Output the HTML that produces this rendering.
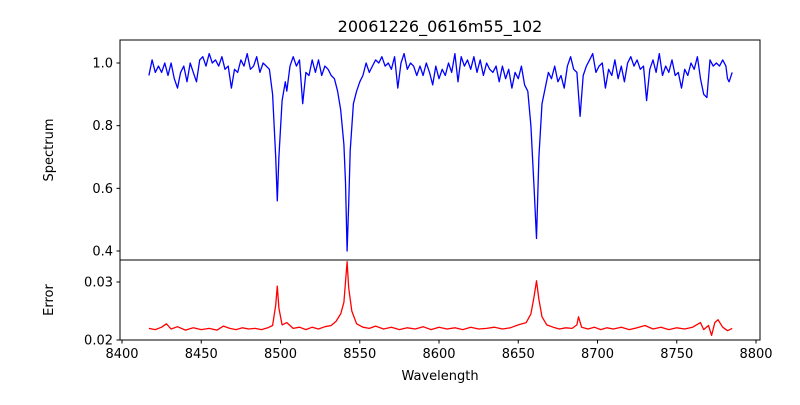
<!DOCTYPE html>
<html><head><meta charset="utf-8"><style>
body{margin:0;background:#fff;font-family:"Liberation Sans","DejaVu Sans",sans-serif}
</style></head><body>
<svg id="chart" width="800" height="400" xmlns="http://www.w3.org/2000/svg" font-family="DejaVu Sans, Liberation Sans, sans-serif">
<rect width="800" height="400" fill="#fff"/>
<text x="440" y="32" text-anchor="middle" font-size="16">20061226_0616m55_102</text>
<text transform="translate(53,150) rotate(-90)" text-anchor="middle" font-size="13">Spectrum</text>
<text transform="translate(53,300) rotate(-90)" text-anchor="middle" font-size="13">Error</text>
<text x="440" y="380" text-anchor="middle" font-size="13">Wavelength</text>
<g id="g"></g>
</svg>
<script>
const wl=[8417,8419,8421,8423,8425,8427,8429,8431,8433,8435,8437,8439,8441,8443,8445,8447,8449,8451,8453,8455,8457,8459,8461,8463,8465,8467,8469,8471,8473,8475,8477,8479,8481,8483,8485,8487,8489,8491,8493,8495,8497,8498,8499,8501,8503,8504,8506,8508,8510,8512,8514,8516,8518,8520,8522,8524,8526,8528,8530,8532,8534,8536,8538,8540,8541,8542,8543,8544,8546,8548,8550,8552,8554,8556,8558,8560,8562,8564,8566,8568,8570,8572,8574,8576,8578,8580,8582,8584,8586,8588,8590,8592,8594,8596,8598,8600,8602,8604,8606,8608,8610,8612,8614,8616,8618,8620,8622,8624,8626,8628,8630,8632,8634,8636,8638,8640,8642,8644,8646,8648,8650,8652,8654,8656,8658,8660,8661.5,8663,8665,8667,8669,8671,8673,8675,8677,8679,8681,8683,8685,8687,8689,8691,8693,8695,8697,8699,8701,8703,8705,8707,8709,8711,8713,8715,8717,8719,8721,8723,8725,8727,8729,8731,8733,8735,8737,8739,8741,8743,8745,8747,8749,8751,8753,8755,8757,8759,8761,8763,8765,8767,8769,8771,8773,8775,8777,8779,8781,8782,8783,8785];
const flux=[.96,1.01,.97,.99,.97,1.0,.96,1.0,.95,.92,.97,.99,.94,1.0,.97,.94,1.01,1.02,.99,1.03,1.0,1.01,.99,1.02,.98,.99,.92,.98,.97,1.01,.99,1.03,.98,.99,1.02,.97,1.0,.99,.98,.90,.70,.56,.70,.88,.94,.91,.99,1.02,.99,1.01,.87,.97,.96,1.01,.97,1.01,.96,.99,.98,.96,.95,.91,.85,.74,.62,.40,.55,.72,.87,.91,.94,.96,1.0,.97,.99,1.01,1.0,1.02,.99,1.0,.98,1.02,.92,1.0,1.03,.98,1.0,.99,.96,.99,.96,1.0,.97,.93,.99,.95,.98,.96,1.0,.97,1.03,.94,1.02,.99,1.01,.98,1.02,.97,1.01,.96,1.0,.98,.97,.99,.94,.99,.95,.98,.92,.97,.95,.99,.93,.91,.80,.60,.44,.70,.87,.92,.97,.95,.99,.94,.96,.92,.99,1.02,.98,.97,.83,.96,.99,1.01,1.03,.97,.99,1.0,.92,.98,.96,1.01,.95,.99,.94,1.0,1.02,.99,1.01,.98,.99,.88,.98,1.01,.97,1.03,.96,.99,.97,1.01,.96,.97,.92,.98,.96,1.0,.98,1.02,.95,.90,.89,1.01,.99,1.0,.99,1.01,.99,.95,.94,.97];
const errWl=[8417,8421,8425,8428,8431,8435,8440,8445,8450,8455,8460,8464,8468,8472,8476,8480,8484,8488,8492,8495,8497,8498,8499,8501,8504,8508,8512,8516,8520,8524,8528,8532,8535,8538,8540,8541,8542,8543,8545,8548,8552,8556,8560,8565,8570,8575,8580,8585,8590,8595,8600,8605,8610,8615,8620,8625,8630,8635,8640,8645,8650,8655,8658,8660,8661.5,8663,8665,8668,8672,8676,8680,8684,8687,8688,8690,8694,8698,8702,8706,8710,8715,8720,8725,8730,8735,8740,8745,8750,8755,8760,8765,8767,8770,8772,8774,8776,8779,8782,8785];
const err=[.0220,.0218,.0222,.0228,.0219,.0223,.0217,.0221,.0218,.0220,.0217,.0224,.0220,.0218,.0221,.0219,.0220,.0218,.0221,.0225,.0260,.0293,.0255,.0226,.0230,.0220,.0222,.0218,.0222,.0219,.0223,.0225,.0232,.0245,.0265,.0300,.0335,.0290,.0250,.0228,.0222,.0220,.0224,.0219,.0222,.0218,.0221,.0219,.0223,.0218,.0222,.0219,.0221,.0218,.0222,.0219,.0220,.0222,.0219,.0221,.0226,.0230,.0245,.0275,.0302,.0270,.0240,.0226,.0222,.0219,.0221,.0220,.0226,.0240,.0222,.0219,.0222,.0218,.0221,.0219,.0222,.0218,.0221,.0225,.0219,.0222,.0218,.0221,.0219,.0222,.0230,.0218,.0225,.0208,.0230,.0235,.0222,.0216,.0220];
const xTicks=[8400,8450,8500,8550,8600,8650,8700,8750,8800];
const yTicksTop=[0.4,0.6,0.8,1.0];
const yTicksBot=[0.02,0.03];
const L=120,R=760;
const X=v=>122+(v-8400)*634/400;
const YT=v=>63+(1.0-v)*313.33;
const YB=v=>340-(v-0.02)*5800;
const g=document.getElementById('g');
const NS='http://www.w3.org/2000/svg';
function mk(t,a){const e=document.createElementNS(NS,t);for(const k in a)e.setAttribute(k,a[k]);g.appendChild(e);return e;}
let d=wl.map((w,i)=>(i?'L':'M')+X(w).toFixed(1)+','+YT(flux[i]).toFixed(1)).join('');
let p=mk('path',{d:d,fill:'none',stroke:'#0000ff','stroke-width':1.3,'stroke-linejoin':'round'});


d=errWl.map((w,i)=>(i?'L':'M')+X(w).toFixed(1)+','+YB(err[i]).toFixed(1)).join('');
p=mk('path',{d:d,fill:'none',stroke:'#ff0000','stroke-width':1.3,'stroke-linejoin':'round'});


let f=mk('rect',{x:L,y:40,width:R-L,height:220,fill:'none',stroke:'#000','stroke-width':1});


f=mk('rect',{x:L,y:260,width:R-L,height:80,fill:'none',stroke:'#000','stroke-width':1});


xTicks.forEach(v=>{const x=X(v);
 let t=mk('line',{x1:x,x2:x,y1:340,y2:343.5,stroke:'#000'});
 
 
 let s=mk('text',{x:x,y:358,'text-anchor':'middle','font-size':13});s.textContent=v;
 
 
});
yTicksTop.forEach(v=>{const y=YT(v);
 let t=mk('line',{x1:116.5,x2:120,y1:y,y2:y,stroke:'#000'});
 
 
 let s=mk('text',{x:113,y:y+4.5,'text-anchor':'end','font-size':13});s.textContent=v.toFixed(1);
 
 
});
yTicksBot.forEach(v=>{const y=YB(v);
 let t=mk('line',{x1:116.5,x2:120,y1:y,y2:y,stroke:'#000'});
 
 
 let s=mk('text',{x:113,y:y+4.5,'text-anchor':'end','font-size':13});s.textContent=v.toFixed(2);
 
 
});
</script>
</body></html>
